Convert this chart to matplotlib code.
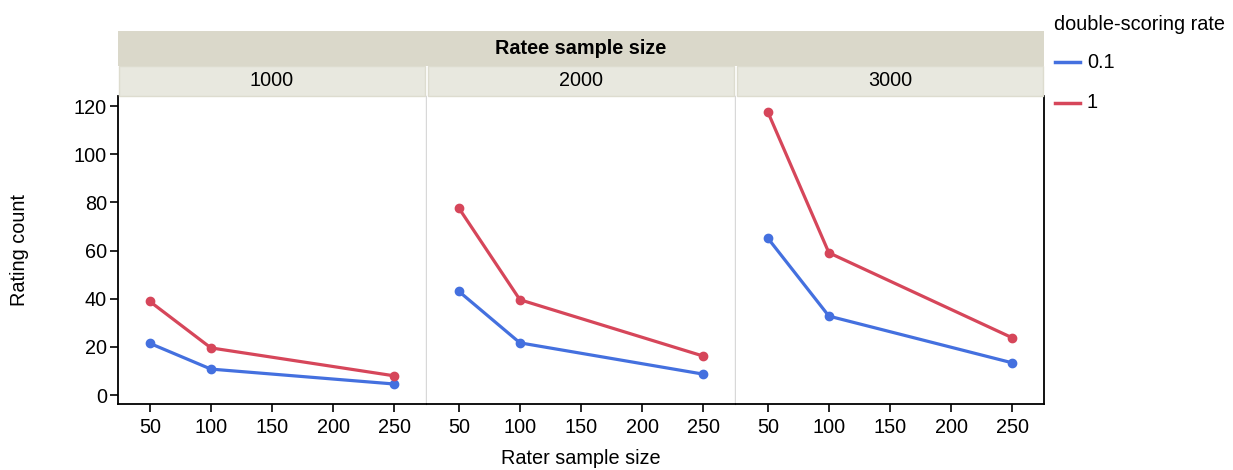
import numpy as np
import matplotlib.pyplot as plt
from matplotlib.patches import Rectangle

plt.rcParams['font.family'] = ['Liberation Sans', 'DejaVu Sans']

# data
ratee_sizes = ["1000", "2000", "3000"]
rater_sizes = [50, 100, 250]
rates = ["0.1", "1"]
counts_01 = [[21.5, 10.8, 4.6], [43.1, 21.7, 8.7], [65.2, 32.8, 13.4]]
counts_1 = [[38.9, 19.6, 8.0], [77.7, 39.6, 16.2], [117.6, 59.1, 23.8]]
colors = {"0.1": "#4470DF", "1": "#D6465A"}

W, H = 1233, 470
fig = plt.figure(figsize=(W / 100, H / 100), dpi=100)

def px(x0, y0, x1, y1):
    return [x0 / W, 1 - y1 / H, (x1 - x0) / W, (y1 - y0) / H]

edges = [(118, 426), (427, 735), (736, 1044)]
top, bot = 96, 404
fs = 14.3

# outer strip
fig.patches.append(Rectangle((118 / W, 1 - 65.5 / H), (1044 - 118) / W, 34.5 / H,
                             transform=fig.transFigure, facecolor="#DAD8CA",
                             edgecolor="none", zorder=0))
fig.text((118 + 1044) / 2 / W, 1 - 48 / H, "Ratee sample size", ha="center",
         va="center", fontsize=fs, fontweight="bold")

for i, (x0, x1) in enumerate(edges):
    ax = fig.add_axes(px(x0, top, x1, bot))
    ax.plot(rater_sizes, counts_01[i], color=colors["0.1"], lw=2.3,
            marker="o", ms=6, label=rates[0])
    ax.plot(rater_sizes, counts_1[i], color=colors["1"], lw=2.3,
            marker="o", ms=6, label=rates[1])
    ax.set_xlim(24, 276)
    ax.set_ylim(-3.7, 124.2)
    ax.set_xticks([50, 100, 150, 200, 250])
    ax.tick_params(axis="x", length=6, width=1.2, labelsize=fs, pad=4)
    ax.tick_params(axis="y", length=6, width=1.2, labelsize=fs, pad=2)
    ax.spines["top"].set_visible(False)
    ax.spines["bottom"].set_linewidth(1.3)
    if i == 0:
        ax.set_yticks([0, 20, 40, 60, 80, 100, 120])
        ax.spines["left"].set_linewidth(1.3)
    else:
        ax.set_yticks([])
        ax.spines["left"].set_visible(False)
    if i < 2:
        ax.spines["right"].set_color("#D8D8D8")
        ax.spines["right"].set_linewidth(1.0)
    else:
        ax.spines["right"].set_linewidth(1.3)
    # facet strip
    fig.patches.append(Rectangle(((x0 + 1) / W, 1 - 96 / H), (x1 - x0 - 2) / W, 30 / H,
                                 transform=fig.transFigure, facecolor="#E8E8DF",
                                 edgecolor="#DDDCCF", lw=1, zorder=0))
    fig.text((x0 + x1) / 2 / W, 1 - 81 / H, ratee_sizes[i], ha="center",
             va="center", fontsize=fs)

fig.text(20 / W, 1 - 250 / H, "Rating count", rotation=90, ha="center",
         va="center", fontsize=fs)
fig.text(581 / W, 1 - 458 / H, "Rater sample size", ha="center", va="center",
         fontsize=fs)

# legend
fig.text(1054 / W, 1 - 25 / H, "double-scoring rate", ha="left", va="center",
         fontsize=fs)
for k, (r, yy) in enumerate(zip(rates, [62, 103])):
    fig.add_artist(plt.Line2D([1055 / W, 1080 / W], [1 - yy / H, 1 - yy / H],
                              color=colors[r], lw=2.5, transform=fig.transFigure))
    fig.text(1087 / W, 1 - yy / H, r, ha="left", va="center", fontsize=fs)

fig.savefig("out.png", dpi=100)
